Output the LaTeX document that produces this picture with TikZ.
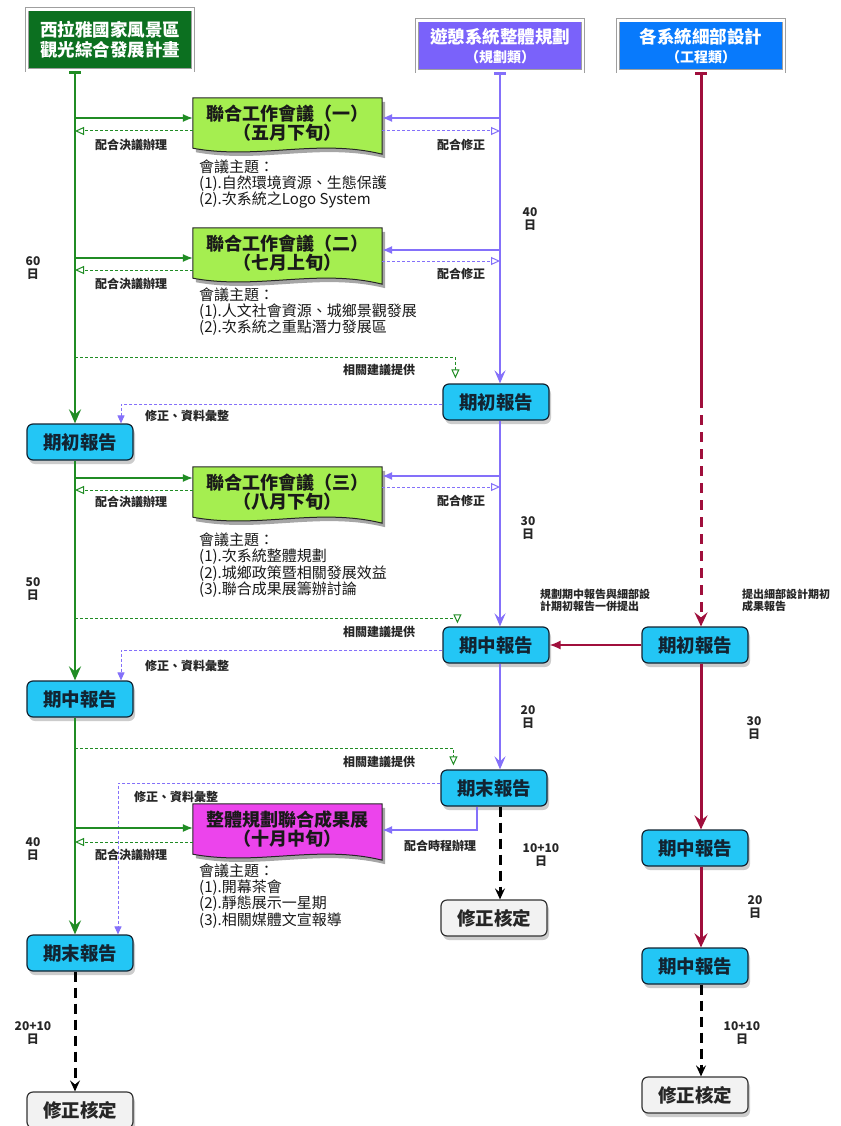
\documentclass[tikz,border=0pt]{standalone}
\usepackage{fontspec}
\setmainfont{Noto Sans CJK TC}
\usetikzlibrary{arrows.meta,shadows,calc}
\pgfdeclarelayer{bg}
\pgfdeclarelayer{paper}
\pgfsetlayers{paper,bg,main}
\definecolor{hdgreen}{RGB}{12,112,32}
\definecolor{lgreen}{RGB}{32,140,36}
\definecolor{lime}{RGB}{165,238,80}
\definecolor{hdpurple}{RGB}{122,98,250}
\definecolor{lpurple}{RGB}{132,112,250}
\definecolor{hdblue}{RGB}{8,122,252}
\definecolor{crim}{RGB}{160,15,60}
\definecolor{rcyan}{RGB}{35,198,245}
\definecolor{magen}{RGB}{236,68,236}
\definecolor{dk}{RGB}{18,36,50}
\newcommand{\mydoc}[2]{%
\begin{pgfonlayer}{bg}
\fill[black,opacity=0.35] ($(#1.north west)+(3,4)$) -- ($(#1.north east)+(3,4)$) -- ($(#1.south east)+(3,10)$) .. controls ($(#1.south)+(33,-6)$) and ($(#1.south)+(-27,16)$) .. ($(#1.south west)+(3,4)$) -- cycle;
\draw[fill=#2,draw=black!85,line width=1pt] (#1.north west) -- (#1.north east) -- ($(#1.south east)+(0,6)$) .. controls ($(#1.south)+(30,-10)$) and ($(#1.south)+(-30,12)$) .. (#1.south west) -- cycle;
\end{pgfonlayer}}
\begin{document}
\begin{tikzpicture}[x=1pt,y=-1pt,
  header/.style={draw=gray!75, double=white, double distance=2.2pt, line width=0.9pt, text=white,
     font=\bfseries\fontsize{17.5}{19.5}\selectfont, align=center, inner sep=0, minimum width=166, minimum height=51},
  report/.style={draw=dk, line width=1.2pt, fill=rcyan, rounded corners=6pt, minimum width=106,
     minimum height=36, inner sep=0, font=\bfseries\fontsize{18.5}{20}\selectfont, text=dk,
     drop shadow={shadow xshift=2pt,shadow yshift=-4pt,opacity=0.4}},
  finalbox/.style={report, fill=gray!10, draw=gray!40!black, text=black!85},
  meet/.style={minimum width=189, minimum height=50, inner sep=0, align=center,
     font=\bfseries\fontsize{18}{17}\selectfont, text=black!90},
  lbl/.style={font=\bfseries\fontsize{12}{13}\selectfont, text=black!85, inner sep=0},
  days/.style={font=\bfseries\fontsize{12}{13}\selectfont, text=black!85, align=center, inner sep=0},
  topic/.style={font=\fontsize{15}{15.5}\selectfont, text=black!90, align=left, inner sep=0, anchor=north west},
  gline/.style={lgreen, line width=2.6pt, -{Stealth[length=14pt,width=12pt,inset=5pt]}},
  pline/.style={lpurple, line width=2pt, -{Stealth[length=13pt,width=11pt,inset=5pt]}},
  rline/.style={crim, line width=3pt, -{Stealth[length=14pt,width=13pt,inset=5pt]}},
  kdash/.style={black, line width=3pt, dash pattern=on 10pt off 6pt, -{Stealth[length=11pt,width=10pt,inset=4pt]}},
  gsolid/.style={lgreen, line width=1.2pt, -{Latex[length=10pt,width=8pt]}},
  psolid/.style={lpurple, line width=1.2pt, -{Latex[length=10pt,width=8pt]}},
  gdash/.style={lgreen, line width=1pt, dash pattern=on 3pt off 2pt, -{Triangle[open,length=9pt,width=8pt,fill=white]}},
  pdasho/.style={lpurple, line width=1pt, dash pattern=on 3pt off 2pt, -{Triangle[open,length=9pt,width=8pt,fill=white]}},
  pdash/.style={lpurple, line width=1pt, dash pattern=on 3pt off 2pt, -{Triangle[length=8pt,width=7pt]}}
]
\begin{pgfonlayer}{paper}
\fill[white] (0,0) rectangle (840,1126);
\end{pgfonlayer}
\useasboundingbox (0,0) rectangle (840,1126);

% column x positions
\coordinate (gx) at (75,0);
\coordinate (px) at (500,0);
\coordinate (rx) at (701,0);

% headers
\node[header, fill=hdgreen, minimum height=61] (H1) at (110,40) {西拉雅國家風景區\\觀光綜合發展計畫};
\node[header, fill=hdpurple] (H2) at (500,46) {遊憩系統整體規劃\\{\fontsize{14}{16}\selectfont（規劃類）}};
\node[header, fill=hdblue] (H3) at (701,46) {各系統細部設計\\{\fontsize{14}{16}\selectfont（工程類）}};

% report boxes
\node[report] (L1) at (80,442) {期初報告};
\node[report] (L2) at (80,699) {期中報告};
\node[report] (L3) at (80,953) {期末報告};
\node[finalbox] (L4) at (80,1110) {修正核定};
\node[report] (C1) at (496,402) {期初報告};
\node[report] (C2) at (496,645) {期中報告};
\node[report] (C3) at (494,788) {期末報告};
\node[finalbox] (C4) at (494,918) {修正核定};
\node[report] (R1) at (695,645) {期初報告};
\node[report] (R2) at (695,848) {期中報告};
\node[report] (R3) at (695,966) {期中報告};
\node[finalbox] (R4) at (695,1095) {修正核定};

% meeting boxes
\node[meet] (M1) at (287.5,123) {聯合工作會議（一）\\（五月下旬）};
\mydoc{M1}{lime}
\node[meet] (M2) at (287.5,253) {聯合工作會議（二）\\（七月上旬）};
\mydoc{M2}{lime}
\node[meet] (M3) at (287.5,492) {聯合工作會議（三）\\（八月下旬）};
\mydoc{M3}{lime}
\node[meet] (M4) at (287.5,829) {整體規劃聯合成果展\\（十月中旬）};
\mydoc{M4}{magen}

% main vertical lines
\draw[gline] (H1.south -| gx) -- (L1.north -| gx);
\draw[gline] (L1.south -| gx) -- (L2.north -| gx);
\draw[gline] (L2.south -| gx) -- (L3.north -| gx);
\draw[kdash] (L3.south -| gx) -- (L4.north -| gx);
\draw[pline] (H2.south -| px) -- (C1.north -| px);
\draw[pline] (C1.south -| px) -- (C2.north -| px);
\draw[pline] (C2.south -| px) -- (C3.north -| px);
\draw[kdash] (C3.south -| px) -- (C4.north -| px);
\coordinate (rb) at (701,398);
\draw[crim, line width=3pt] (H3.south -| rx) -- (rb);
\draw[rline, dash pattern=on 10pt off 7pt] (rb) -- (R1.north -| rx);
\draw[rline] (R1.south -| rx) -- (R2.north -| rx);
\draw[rline] (R2.south -| rx) -- (R3.north -| rx);
\draw[kdash] (R3.south -| rx) -- (R4.north -| rx);
\draw[crim, line width=1.5pt, -{Latex[length=11pt,width=9pt]}] (R1.west) -- (C2.east);

% start bars under headers
\fill[lgreen] ($(H1.south -| gx)+(-6,0)$) rectangle ++(12,3);
\fill[lpurple] ($(H2.south -| px)+(-6,0)$) rectangle ++(12,3);
\fill[crim] ($(H3.south -| rx)+(-6,0)$) rectangle ++(12,3);

% meeting 1 connectors
\coordinate (g1) at (75,118);  \coordinate (gd1) at (75,131);
\coordinate (p1) at (500,118); \coordinate (pd1) at (500,131);
\draw[gsolid] (g1) -- (g1 -| M1.west);
\draw[gdash] (gd1 -| M1.west) -- (gd1);
\draw[psolid] (p1) -- (p1 -| M1.east);
\draw[pdasho] (pd1 -| M1.east) -- (pd1);
\node[lbl] (a1) at (131,145) {配合決議辦理};
\node[lbl] (b1) at (461,145) {配合修正};
\node[topic] (t1) at (199,160) {會議主題：\\(1).自然環境資源、生態保護\\(2).次系統之Logo System};

% meeting 2 connectors
\coordinate (g2) at (75,258);  \coordinate (gd2) at (75,270);
\coordinate (p2) at (500,250); \coordinate (pd2) at (500,261);
\draw[gsolid] (g2) -- (g2 -| M2.west);
\draw[gdash] (gd2 -| M2.west) -- (gd2);
\draw[psolid] (p2) -- (p2 -| M2.east);
\draw[pdasho] (pd2 -| M2.east) -- (pd2);
\node[lbl] (a2) at (131,284) {配合決議辦理};
\node[lbl] (b2) at (461,274) {配合修正};
\node[topic] (t2) at (199,288) {會議主題：\\(1).人文社會資源、城鄉景觀發展\\(2).次系統之重點潛力發展區};

% suggestions / revisions round 1
\coordinate (s1) at (75,357);
\draw[gdash] (s1) -| ($(C1.north west)+(13,-5)$);
\node[lbl] (c1) at (379,370) {相關建議提供};
\coordinate (r1) at (121,404);
\draw[pdash] (C1.west |- r1) -| (r1 |- L1.north);
\node[lbl] (d1) at (187,416) {修正、資料彙整};

% meeting 3 connectors
\coordinate (g3) at (75,478);  \coordinate (gd3) at (75,490);
\coordinate (p3) at (500,476); \coordinate (pd3) at (500,487);
\draw[gsolid] (g3) -- (g3 -| M3.west);
\draw[gdash] (gd3 -| M3.west) -- (gd3);
\draw[psolid] (p3) -- (p3 -| M3.east);
\draw[pdasho] (pd3 -| M3.east) -- (pd3);
\node[lbl] (a3) at (131,502) {配合決議辦理};
\node[lbl] (b3) at (461,501) {配合修正};
\node[topic] (t3) at (199,533) {會議主題：\\(1).次系統整體規劃\\(2).城鄉政策暨相關發展效益\\(3).聯合成果展籌辦討論};

% suggestions / revisions round 2
\coordinate (s2) at (75,618);
\draw[gdash] (s2) -| ($(C2.north west)+(15,-3)$);
\node[lbl] (c2) at (379,632) {相關建議提供};
\coordinate (r2) at (121,650);
\draw[pdash] (C2.west |- r2) -| (r2 |- L2.north);
\node[lbl] (d2) at (187,666) {修正、資料彙整};

% notes
\node[days, align=left, font=\bfseries\fontsize{11}{12}\selectfont] (n1) at (595,600) {規劃期中報告與細部設\\計期初報告一併提出};
\node[days, align=left, font=\bfseries\fontsize{11}{12}\selectfont] (n2) at (786,600) {提出細部設計期初\\成果報告};

% round 3
\coordinate (s3) at (75,748);
\draw[gdash] (s3) -| ($(C3.north west)+(13,-4)$);
\node[lbl] (c3) at (379,762) {相關建議提供};
\coordinate (r3) at (118,783);
\draw[pdash] (C3.west |- r3) -| (r3 |- L3.north);
\node[lbl] (d3) at (176,797) {修正、資料彙整};

% meeting 4 connectors
\coordinate (g4) at (75,828);  \coordinate (gd4) at (75,842);
\draw[gsolid] (g4) -- (g4 -| M4.west);
\draw[gdash] (gd4 -| M4.west) -- (gd4);
\coordinate (p4) at (477,830);
\draw[psolid] (C3.south -| p4) -- (p4) -- (p4 -| M4.east);
\node[lbl] (a4) at (131,855) {配合決議辦理};
\node[lbl] (b4) at (440,846) {配合時程辦理};
\node[topic] (t4) at (199,864) {會議主題：\\(1).開幕茶會\\(2).靜態展示一星期\\(3).相關媒體文宣報導};

% day counts
\node[days] (dy1) at (530,219) {40\\日};
\node[days] (dy2) at (33,268) {60\\日};
\node[days] (dy3) at (528,528) {30\\日};
\node[days] (dy4) at (33,589) {50\\日};
\node[days] (dy5) at (528,717) {20\\日};
\node[days] (dy6) at (541,855) {10+10\\日};
\node[days] (dy7) at (33,849) {40\\日};
\node[days] (dy8) at (33,1033) {20+10\\日};
\node[days] (dy9) at (754,728) {30\\日};
\node[days] (dy10) at (755,907) {20\\日};
\node[days] (dy11) at (742,1033) {10+10\\日};
\end{tikzpicture}
\end{document}
